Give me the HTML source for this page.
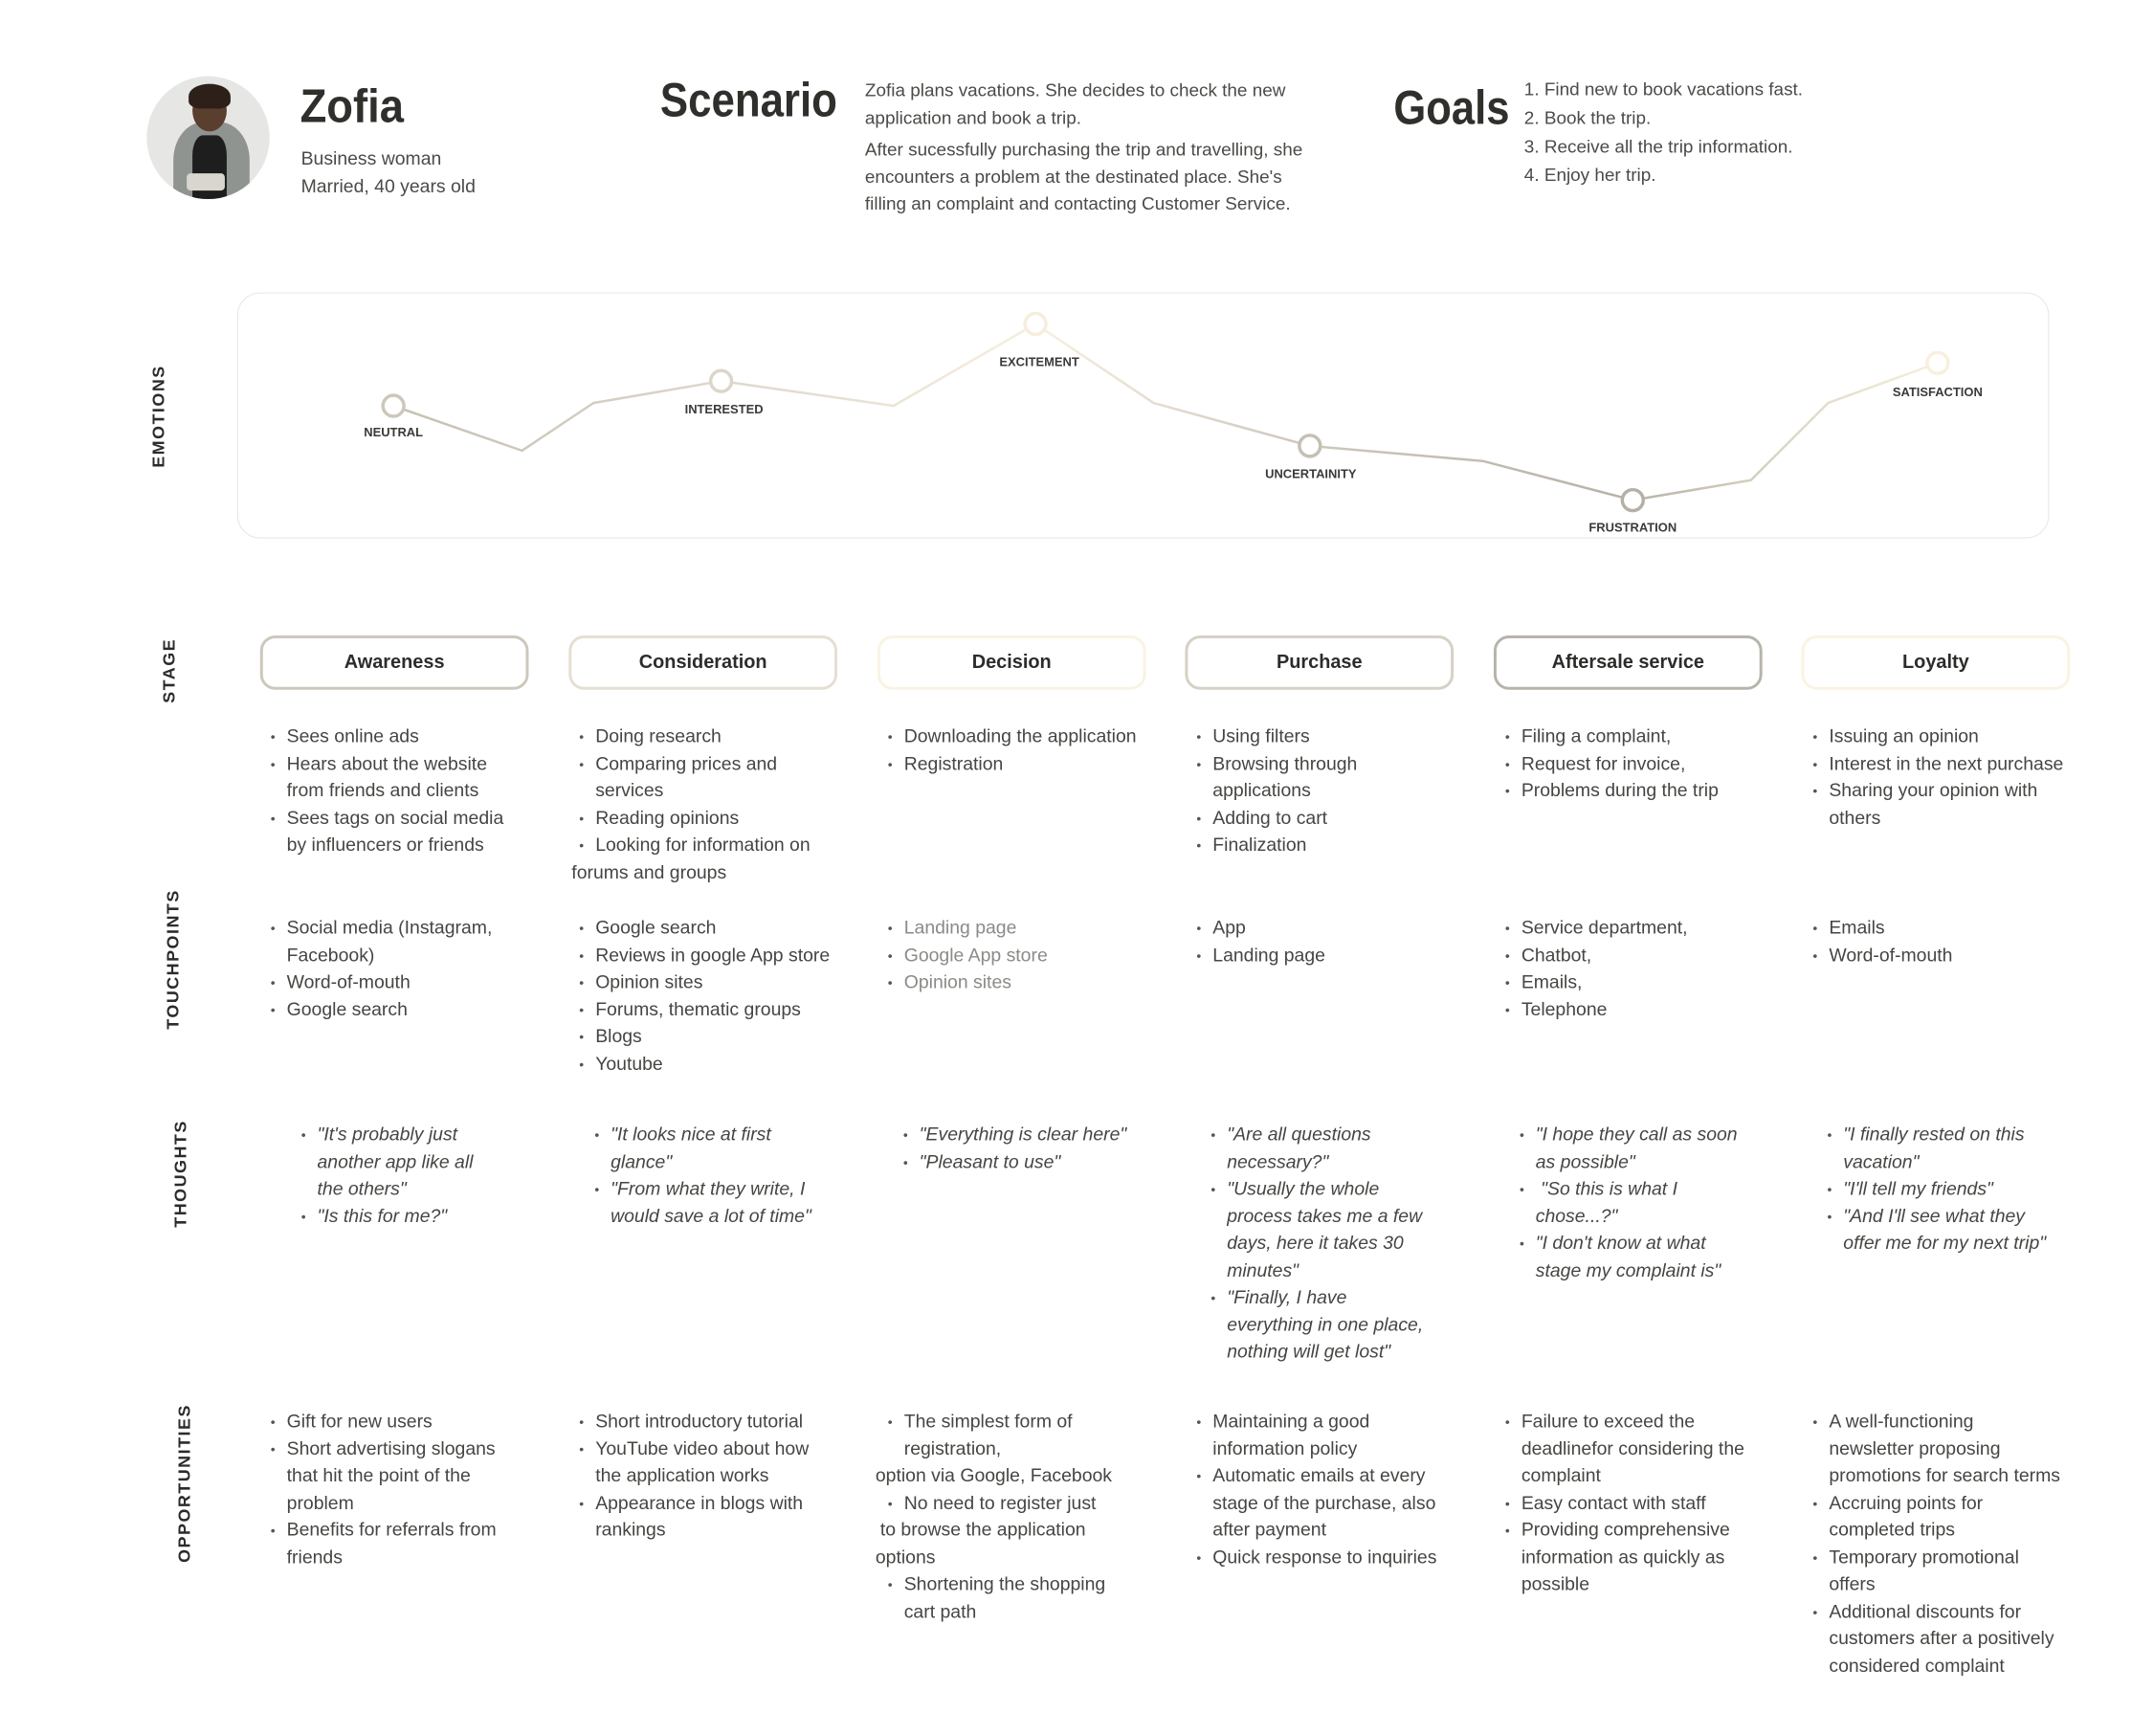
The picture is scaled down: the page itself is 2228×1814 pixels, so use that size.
<!DOCTYPE html>
<html><head><meta charset="utf-8">
<style>
*{margin:0;padding:0;box-sizing:border-box}
body{width:2228px;height:1814px;background:#fff;position:relative;overflow:hidden;font-family:"Liberation Sans",sans-serif;color:#3d3d3a}
#w{position:absolute;left:0;top:0;width:2228px;height:1814px;transform:scale(0.9955);transform-origin:0 0}
.a{position:absolute}
.h{font-weight:bold;color:#2f2f2c;transform-origin:0 0}
.t{font-size:19px;line-height:28.5px;color:#4a4a47;white-space:nowrap}
.col{position:absolute;font-size:19.5px;line-height:28.5px;color:#454542;white-space:nowrap}
.col div{position:relative;height:28.5px}
.col .b::before{content:"•";position:absolute;left:-17px;font-size:14px;color:#555}
.th{font-style:italic}
.g{color:#8a8a86}
.vl{position:absolute;font-weight:bold;font-size:18px;letter-spacing:1.5px;color:#2b2b29;transform:translate(-50%,-50%) rotate(-90deg);white-space:nowrap}
.st{position:absolute;top:667px;height:57px;width:282px;border:3.5px solid #ccc;border-radius:16px;text-align:center;line-height:50px;font-size:20px;font-weight:bold;color:#2c2c2a}
.el{font-weight:bold;font-size:13px;fill:#3a3a38;text-anchor:middle}
</style></head><body><div id="w">

<!-- avatar -->
<div class="a" style="left:154px;top:80px;width:129px;height:129px;border-radius:50%;overflow:hidden;background:#e6e6e4">
  <div class="a" style="left:28px;top:48px;width:80px;height:100px;border-radius:40% 40% 0 0;background:#8f9490"></div>
  <div class="a" style="left:48px;top:62px;width:36px;height:70px;background:#1e1e1e;border-radius:30% 30% 0 0"></div>
  <div class="a" style="left:48px;top:14px;width:36px;height:44px;border-radius:50%;background:#5a3e2e"></div>
  <div class="a" style="left:44px;top:8px;width:44px;height:26px;border-radius:50% 50% 30% 30%;background:#2c2019"></div>
  <div class="a" style="left:42px;top:102px;width:40px;height:18px;background:#d9d6cf;border-radius:4px"></div>
</div>
<div class="a h" style="left:315px;top:84px;font-size:49px;transform:scaleX(0.93)">Zofia</div>
<div class="a t" style="left:316px;top:153px;font-size:19.5px">Business woman<br>Married, 40 years old</div>

<div class="a h" style="left:693px;top:76px;font-size:50px;transform:scaleX(0.88)">Scenario</div>
<div class="a t" style="left:908px;top:82px">Zofia plans vacations. She decides to check the new<br>application and book a trip.</div>
<div class="a t" style="left:908px;top:144px">After sucessfully purchasing the trip and travelling, she<br>encounters a problem at the destinated place. She's<br>filling an complaint and contacting Customer Service.</div>

<div class="a h" style="left:1463px;top:84px;font-size:50px;transform:scaleX(0.875)">Goals</div>
<div class="a t" style="left:1600px;top:80px;line-height:30px">1. Find new to book vacations fast.<br>2. Book the trip.<br>3. Receive all the trip information.<br>4. Enjoy her trip.</div>

<!-- emotions box -->
<div class="a" style="left:249px;top:307px;width:1902px;height:258px;border:1.5px solid #e6e6e6;border-radius:24px"></div>
<div class="vl" style="left:167px;top:437px">EMOTIONS</div>
<svg class="a" style="left:0;top:0" width="2228" height="600">
<defs>
<linearGradient id="gl" x1="413" y1="0" x2="2034" y2="0" gradientUnits="userSpaceOnUse">
<stop offset="0" stop-color="#c6c0b2"/><stop offset="0.2" stop-color="#dcd6c9"/><stop offset="0.42" stop-color="#f7efdf"/><stop offset="0.58" stop-color="#cfc9bd"/><stop offset="0.8" stop-color="#b7b2a6"/><stop offset="0.9" stop-color="#dcd6c4"/><stop offset="1" stop-color="#f8efdf"/>
</linearGradient>
</defs>
<polyline fill="none" stroke="url(#gl)" stroke-width="2.5" points="413,426 548,473 623,423 757,400 938,426 1087,340 1211,423 1375,468 1557,484 1714,525 1838,504 1919,423 2034,381"/>
<g fill="#fff" stroke-width="3.5">
<circle cx="413" cy="426" r="11" stroke="#cdc7bb"/>
<circle cx="757" cy="400" r="11" stroke="#dcd6c9"/>
<circle cx="1087" cy="340" r="11" stroke="#f6eedc"/>
<circle cx="1375" cy="468" r="11" stroke="#c5c0b5"/>
<circle cx="1714" cy="525" r="11" stroke="#b5b0a5"/>
<circle cx="2034" cy="381" r="11" stroke="#f8efdf"/>
</g>
<text class="el" x="413" y="458">NEUTRAL</text>
<text class="el" x="760" y="434">INTERESTED</text>
<text class="el" x="1091" y="384">EXCITEMENT</text>
<text class="el" x="1376" y="502">UNCERTAINITY</text>
<text class="el" x="1714" y="558">FRUSTRATION</text>
<text class="el" x="2034" y="416">SATISFACTION</text>
</svg>

<!-- row labels -->
<div class="vl" style="left:178px;top:704px">STAGE</div>
<div class="vl" style="left:182px;top:1007px">TOUCHPOINTS</div>
<div class="vl" style="left:190px;top:1232px">THOUGHTS</div>
<div class="vl" style="left:194px;top:1557px">OPPORTUNITIES</div>

<!-- stages -->
<div class="st" style="left:273px;border-color:#cdc8bc">Awareness</div>
<div class="st" style="left:597px;border-color:#e5dfd2">Consideration</div>
<div class="st" style="left:921px;border-color:#faf3e3">Decision</div>
<div class="st" style="left:1244px;border-color:#d6d1c5">Purchase</div>
<div class="st" style="left:1568px;border-color:#b8b4aa">Aftersale service</div>
<div class="st" style="left:1891px;border-color:#fbf3e2">Loyalty</div>

<!-- stage content -->
<div class="col" style="left:301px;top:759px">
<div class="b">Sees online ads</div><div class="b">Hears about the website</div><div>from friends and clients</div><div class="b">Sees tags on social media</div><div>by influencers or friends</div></div>
<div class="col" style="left:625px;top:759px">
<div class="b">Doing research</div><div class="b">Comparing prices and</div><div>services</div><div class="b">Reading opinions</div><div class="b">Looking for information on</div><div style="margin-left:-25px">forums and groups</div></div>
<div class="col" style="left:949px;top:759px">
<div class="b">Downloading the application</div><div class="b">Registration</div></div>
<div class="col" style="left:1273px;top:759px">
<div class="b">Using filters</div><div class="b">Browsing through</div><div>applications</div><div class="b">Adding to cart</div><div class="b">Finalization</div></div>
<div class="col" style="left:1597px;top:759px">
<div class="b">Filing a complaint,</div><div class="b">Request for invoice,</div><div class="b">Problems during the trip</div></div>
<div class="col" style="left:1920px;top:759px">
<div class="b">Issuing an opinion</div><div class="b">Interest in the next purchase</div><div class="b">Sharing your opinion with</div><div>others</div></div>

<!-- touchpoints -->
<div class="col" style="left:301px;top:960px">
<div class="b">Social media (Instagram,</div><div>Facebook)</div><div class="b">Word-of-mouth</div><div class="b">Google search</div></div>
<div class="col" style="left:625px;top:960px">
<div class="b">Google search</div><div class="b">Reviews in google App store</div><div class="b">Opinion sites</div><div class="b">Forums, thematic groups</div><div class="b">Blogs</div><div class="b">Youtube</div></div>
<div class="col g" style="left:949px;top:960px">
<div class="b">Landing page</div><div class="b">Google App store</div><div class="b">Opinion sites</div></div>
<div class="col" style="left:1273px;top:960px">
<div class="b">App</div><div class="b">Landing page</div></div>
<div class="col" style="left:1597px;top:960px">
<div class="b">Service department,</div><div class="b">Chatbot,</div><div class="b">Emails,</div><div class="b">Telephone</div></div>
<div class="col" style="left:1920px;top:960px">
<div class="b">Emails</div><div class="b">Word-of-mouth</div></div>

<!-- thoughts -->
<div class="col th" style="left:333px;top:1177px">
<div class="b">"It's probably just</div><div>another app like all</div><div>the others"</div><div class="b">"Is this for me?"</div></div>
<div class="col th" style="left:641px;top:1177px">
<div class="b">"It looks nice at first</div><div>glance"</div><div class="b">"From what they write, I</div><div>would save a lot of time"</div></div>
<div class="col th" style="left:965px;top:1177px">
<div class="b">"Everything is clear here"</div><div class="b">"Pleasant to use"</div></div>
<div class="col th" style="left:1288px;top:1177px">
<div class="b">"Are all questions</div><div>necessary?"</div><div class="b">"Usually the whole</div><div>process takes me a few</div><div>days, here it takes 30</div><div>minutes"</div><div class="b">"Finally, I have</div><div>everything in one place,</div><div>nothing will get lost"</div></div>
<div class="col th" style="left:1612px;top:1177px">
<div class="b">"I hope they call as soon</div><div>as possible"</div><div class="b">&nbsp;"So this is what I</div><div>chose...?"</div><div class="b">"I don't know at what</div><div>stage my complaint is"</div></div>
<div class="col th" style="left:1935px;top:1177px">
<div class="b">"I finally rested on this</div><div>vacation"</div><div class="b">"I'll tell my friends"</div><div class="b">"And I'll see what they</div><div>offer me for my next trip"</div></div>

<!-- opportunities -->
<div class="col" style="left:301px;top:1478px">
<div class="b">Gift for new users</div><div class="b">Short advertising slogans</div><div>that hit the point of the</div><div>problem</div><div class="b">Benefits for referrals from</div><div>friends</div></div>
<div class="col" style="left:625px;top:1478px">
<div class="b">Short introductory tutorial</div><div class="b">YouTube video about how</div><div>the application works</div><div class="b">Appearance in blogs with</div><div>rankings</div></div>
<div class="col" style="left:949px;top:1478px">
<div class="b">The simplest form of</div><div>registration,</div><div style="margin-left:-30px">option via Google, Facebook</div><div class="b">No need to register just</div><div style="margin-left:-25px">to browse the application</div><div style="margin-left:-30px">options</div><div class="b">Shortening the shopping</div><div>cart path</div></div>
<div class="col" style="left:1273px;top:1478px">
<div class="b">Maintaining a good</div><div>information policy</div><div class="b">Automatic emails at every</div><div>stage of the purchase, also</div><div>after payment</div><div class="b">Quick response to inquiries</div></div>
<div class="col" style="left:1597px;top:1478px">
<div class="b">Failure to exceed the</div><div>deadlinefor considering the</div><div>complaint</div><div class="b">Easy contact with staff</div><div class="b">Providing comprehensive</div><div>information as quickly as</div><div>possible</div></div>
<div class="col" style="left:1920px;top:1478px">
<div class="b">A well-functioning</div><div>newsletter proposing</div><div>promotions for search terms</div><div class="b">Accruing points for</div><div>completed trips</div><div class="b">Temporary promotional</div><div>offers</div><div class="b">Additional discounts for</div><div>customers after a positively</div><div>considered complaint</div></div>

</div></body></html>
